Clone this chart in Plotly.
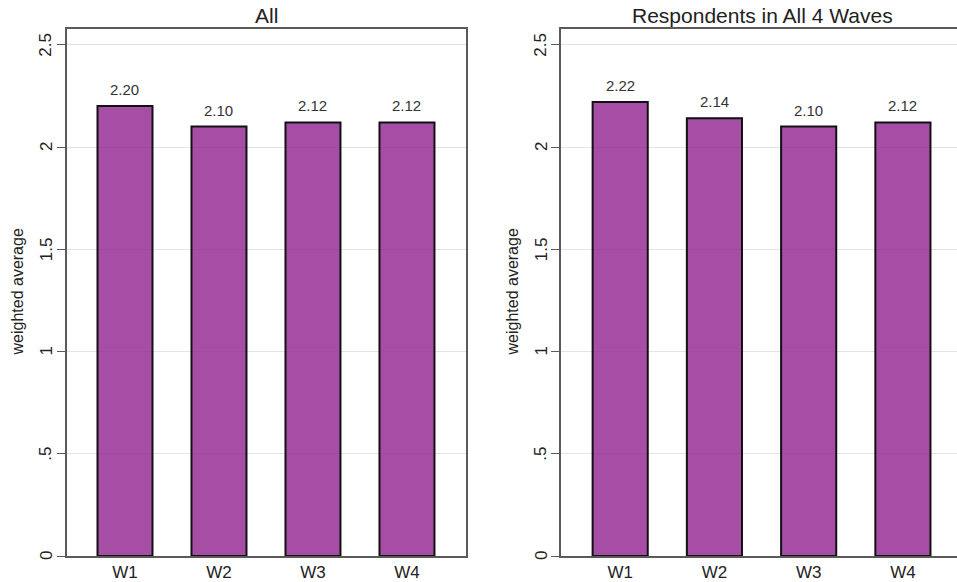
import plotly.graph_objects as go

waves = ["W1", "W2", "W3", "W4"]
all_values = [2.20, 2.10, 2.12, 2.12]
panel_values = [2.22, 2.14, 2.10, 2.12]
panel_titles = ["All", "Respondents in All 4 Waves"]
y_title = "weighted average"
y_tickvals = [0, 0.5, 1, 1.5, 2, 2.5]
y_ticktext = ["0", ".5", "1", "1.5", "2", "2.5"]

W, H = 957, 582
FONT = "Liberation Sans, Arial, sans-serif"
bar_fill = "rgba(150,47,150,0.85)"
axis_col = "#5a5a5a"

fig = go.Figure()
for i, vals in enumerate([all_values, panel_values]):
    sfx = "" if i == 0 else "2"
    fig.add_trace(go.Bar(
        x=waves, y=vals,
        xaxis="x" + sfx, yaxis="y" + sfx,
        width=0.585,
        marker=dict(color=bar_fill, line=dict(color="#111111", width=2)),
        showlegend=False,
        hoverinfo="skip",
    ))
    for w, v in zip(waves, vals):
        fig.add_annotation(
            x=w, y=v, xref="x" + sfx, yref="y" + sfx,
            text=f"{v:.2f}", showarrow=False,
            xanchor="center", yanchor="bottom", yshift=6,
            font=dict(family=FONT, size=15, color="#333333"),
        )

left_dom = [67 / W, 466 / W]
right_dom = [561 / W, 1.0]

common_x = dict(
    type="category", showgrid=False, zeroline=False,
    showline=True, linecolor=axis_col, linewidth=1.5,
    ticks="", 
    tickfont=dict(family=FONT, size=17, color="#222222"),
    automargin=False, fixedrange=True,
)
common_y = dict(
    range=[0, 2.577], tickvals=y_tickvals, showticklabels=False,
    showgrid=True, gridcolor="#e4e4e4", gridwidth=1,
    zeroline=False, showline=True, linecolor=axis_col, linewidth=1.5,
    ticks="outside", ticklen=8, tickcolor=axis_col, tickwidth=1.2,
    automargin=False, fixedrange=True,
)

fig.update_layout(
    width=W, height=H,
    margin=dict(l=0, r=0, t=29, b=26),
    paper_bgcolor="white", plot_bgcolor="white",
    xaxis=dict(common_x, domain=left_dom, range=[-0.617, 3.628], mirror=True, anchor="y"),
    yaxis=dict(common_y, domain=[0, 1], mirror=True, anchor="x"),
    xaxis2=dict(common_x, domain=right_dom, range=[-0.628, 3.574], mirror=True, anchor="y2"),
    yaxis2=dict(common_y, domain=[0, 1], mirror=False, anchor="x2"),
)

# rotated y tick labels
for yref, lx in [("y", 46 / W), ("y2", 541 / W)]:
    for tv, tt in zip(y_tickvals, y_ticktext):
        fig.add_annotation(
            x=lx, y=tv, xref="paper", yref=yref, text=tt, textangle=-90,
            xanchor="center", yanchor="middle", showarrow=False,
            font=dict(family=FONT, size=17, color="#222222"),
        )

# panel titles
title_x = [(67 + 466) / 2 / W, 762 / W]
for tx, tt in zip(title_x, panel_titles):
    fig.add_annotation(
        text=tt, x=tx, y=1, xref="paper", yref="paper",
        xanchor="center", yanchor="bottom", yshift=0, showarrow=False,
        font=dict(family=FONT, size=21, color="#222222"),
    )

# y-axis titles
for yx in [17 / W, 512 / W]:
    fig.add_annotation(
        text=y_title, x=yx, y=0.5, xref="paper", yref="paper",
        xanchor="center", yanchor="middle", textangle=-90, showarrow=False,
        font=dict(family=FONT, size=16, color="#222222"),
    )

fig.write_html(
    "out.html",
    config={"displayModeBar": False},
    post_script="document.body.style.margin='0';document.body.style.padding='0';",
)
